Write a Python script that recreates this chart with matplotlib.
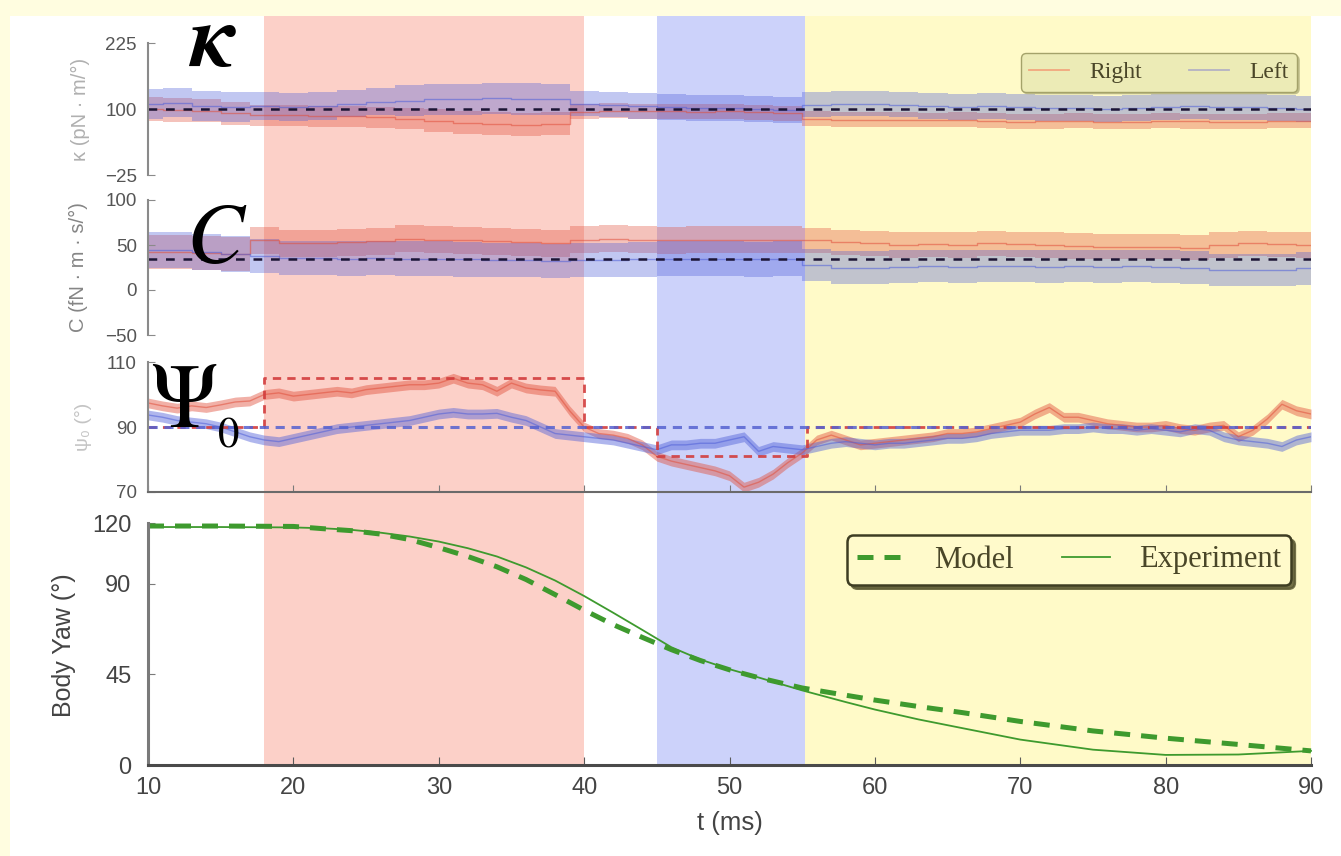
import numpy as np
import matplotlib.pyplot as plt
from matplotlib.patches import Rectangle
from matplotlib.lines import Line2D

plt.rcParams['mathtext.fontset'] = 'custom'
plt.rcParams['mathtext.it'] = 'STIXGeneral:italic:bold'
plt.rcParams['mathtext.rm'] = 'STIXGeneral'

# ---------------- data ----------------
t2 = np.arange(10, 91, 2)   # 41 samples (kappa, C)
t1 = np.arange(10, 91, 1)   # 81 samples (psi0)

kappa_right = [100, 98, 97, 92, 88, 88, 86, 86, 84, 82, 78, 74, 72, 70, 72, 95, 97, 96, 96, 95, 96,
               94, 92, 82, 80, 80, 80, 79, 80, 78, 76, 77, 78, 76, 76, 78, 77, 76, 76, 78, 78]
kappa_right_hw = [22, 22, 22, 22, 20, 20, 20, 20, 20, 20, 22, 22, 22, 22, 22, 14, 14, 14, 14, 14, 14,
                  14, 14, 14, 14, 14, 14, 14, 14, 14, 14, 14, 14, 14, 14, 14, 14, 14, 14, 14, 14]
kappa_left = [110, 112, 106, 104, 106, 104, 106, 110, 114, 116, 118, 118, 120, 119, 118, 110, 108, 106, 104, 102, 102,
              100, 98, 108, 110, 110, 108, 106, 104, 106, 104, 102, 102, 100, 102, 104, 106, 104, 104, 102, 100]
kappa_left_hw = [28, 28, 28, 28, 26, 26, 26, 26, 26, 30, 30, 30, 30, 30, 30, 24, 24, 24, 24, 24, 24,
                 24, 24, 24, 24, 24, 24, 24, 24, 24, 24, 24, 24, 24, 24, 24, 24, 24, 24, 24, 24]
kappa_model = 100

C_right = [42, 42, 41, 40, 55, 52, 52, 53, 54, 57, 56, 55, 54, 53, 52, 56, 57, 56, 55, 56, 56,
           56, 56, 55, 53, 52, 50, 51, 50, 52, 51, 50, 49, 48, 48, 48, 47, 50, 52, 51, 50]
C_right_hw = [19, 19, 19, 19, 15, 15, 15, 15, 15, 15, 15, 15, 15, 15, 15, 15, 15, 15, 15, 15, 15,
              15, 15, 14, 14, 14, 14, 14, 14, 14, 14, 14, 14, 14, 14, 14, 14, 14, 14, 14, 14]
C_left = [44, 44, 42, 40, 38, 36, 36, 35, 36, 35, 35, 34, 33, 33, 32, 33, 33, 34, 35, 35, 35,
          34, 35, 28, 25, 25, 26, 27, 26, 27, 27, 26, 27, 26, 27, 26, 25, 22, 22, 22, 24]
C_left_hw = [20, 20, 20, 20, 19, 19, 19, 19, 19, 19, 19, 19, 19, 19, 19, 19, 19, 19, 19, 19, 19,
             19, 19, 18, 18, 18, 18, 18, 18, 18, 18, 18, 18, 18, 18, 18, 18, 18, 18, 18, 18]
C_model = 35

psi_right = [97.4, 96.5, 95.8, 96.5, 96, 96.8, 97.7, 98, 100, 100.5, 99.5, 100, 100.5, 101, 100.5, 101.5,
             102, 102.5, 103, 103, 103.5, 105, 103.5, 103, 101, 103.5, 102, 101.4, 101, 95, 90, 88,
             87.5, 86.5, 84.5, 81, 79.5, 78.5, 77.5, 76.5, 75, 71.5, 73, 75.5, 79, 82, 86, 87.5,
             86, 84.5, 85, 85.5, 86, 86.5, 87, 88, 88, 88.5, 89.5, 90.5, 91.5, 94, 96, 93,
             93, 92, 91, 90.5, 90, 90, 90.5, 89.5, 89, 90, 90.5, 87, 89, 92.5, 97, 95, 94]
psi_left = [93.7, 93, 92, 91.5, 91, 90, 88.5, 87, 86, 85.5, 86.5, 87.5, 88.5, 89.5, 90, 90.5,
            91, 91.5, 92, 93, 94, 94.5, 94, 94, 94.2, 93, 92, 90, 88, 87.5, 87, 86.5,
            86, 85, 84, 83, 84.5, 84.5, 85, 85, 86, 87, 82.5, 84, 83.5, 83, 84, 85,
            85.5, 85, 84.5, 85, 85, 85.5, 86, 86.5, 86.5, 87, 88, 88.5, 89, 89, 89, 89.5,
            89.5, 90, 89.5, 89.5, 89, 89.5, 89, 88.5, 89.5, 89, 87, 86, 85.5, 85, 84, 86, 87]
psi_hw = 1.5
psi_model_right_t = [10, 18, 18, 40, 40, 45, 45, 55.3, 55.3, 90]
psi_model_right_v = [90, 90, 105, 105, 90, 90, 81, 81, 90, 90]
psi_model_left_t = [10, 90]
psi_model_left_v = [90, 90]

yaw_t = [10, 15, 20, 22, 24, 26, 28, 30, 32, 34, 36, 38, 40, 42, 44, 46, 48, 50, 52, 55, 58, 60,
         63, 66, 70, 75, 80, 85, 90]
yaw_model = [118.5, 118.5, 118.3, 117.2, 116.2, 114.5, 111.8, 107.8, 103.4, 98.3, 92, 84.5, 76.8, 69.6,
             63.3, 57.2, 51.8, 47.2, 43.3, 38.2, 34.6, 32.2, 29, 26, 21.6, 16.9, 13.3, 10.2, 7]
yaw_exp = [118, 118, 117.8, 117.4, 116.6, 115.2, 113.3, 110.8, 107.5, 103.4, 98, 91.5, 83.8, 75.5,
           67, 58.4, 52.3, 47.5, 43.4, 37, 31.2, 27.5, 22.6, 18.3, 12.6, 7.6, 5.0, 5.2, 7]

phases = [(18, 40, '#FCD0C8'), (45, 55.2, '#CCD2FA'), (55.2, 90, '#FFFAC8')]

# ---------------- figure ----------------
W, H = 1341, 856
fig = plt.figure(figsize=(W / 100, H / 100), dpi=100)
fig.patch.set_facecolor('#FFFDE0')
fig.add_artist(Rectangle((10 / W, 0), 1 - 10 / W, 1 - 16 / H, transform=fig.transFigure,
                         facecolor='white', edgecolor='none', zorder=-10))

XL, XR = 148, 1311
left = XL / W
width = (XR - XL) / W

def axbox(ytop, ybot):
    return [left, 1 - ybot / H, width, (ybot - ytop) / H]

bg = fig.add_axes(axbox(16, 767))
bg.set_zorder(-5)
bg.set_xlim(10, 90)
bg.set_ylim(0, 1)
bg.axis('off')
for a, b, c in phases:
    bg.axvspan(a, b, color=c, lw=0)

RED = '#E0503C'
BLUE = '#4F5FD8'
TICKC = '#555555'
SANS = 'Liberation Sans'
SERIF = 'STIXGeneral'
LSERIF = 'Liberation Serif'

def style(ax, ylim, yticks, bottom=False, labelsize=13.5, spinec='#8a8a8a', lw=1.5):
    ax.set_facecolor('none')
    ax.set_xlim(10, 90)
    ax.set_ylim(*ylim)
    for s in ['top', 'right']:
        ax.spines[s].set_visible(False)
    ax.spines['left'].set_bounds(*ylim)
    ax.spines['left'].set_color(spinec)
    ax.spines['left'].set_linewidth(lw)
    if bottom:
        ax.spines['bottom'].set_color('#6a6a6a')
        ax.spines['bottom'].set_linewidth(lw)
    else:
        ax.spines['bottom'].set_visible(False)
    ax.set_yticks(yticks)
    ax.tick_params(axis='y', direction='in', length=5, color=spinec, labelsize=labelsize,
                   labelcolor=TICKC, pad=8)
    for lab in ax.get_yticklabels():
        lab.set_family(SANS)

def band(ax, t, c, hw, color, alpha=0.35, step=None):
    c = np.asarray(c, float)
    hw = np.asarray(hw, float)
    ax.fill_between(t, c - hw, c + hw, color=color, alpha=alpha, lw=0, step=step)
    ax.plot(t, c, color=color, alpha=0.55, lw=1.0, drawstyle='steps-mid' if step else 'default')

def ylab(text, x, y, size, color):
    fig.text(x / W, 1 - y / H, text, rotation=90, ha='center', va='center',
             fontsize=size, color=color, family=[SANS, 'DejaVu Sans'])

# Panel 1: kappa
ax1 = fig.add_axes(axbox(43, 175))
style(ax1, (-25, 225), [-25, 100, 225])
ax1.set_xticks([])
band(ax1, t2, kappa_right, kappa_right_hw, RED, step='mid')
band(ax1, t2, kappa_left, kappa_left_hw, BLUE, step='mid')
ax1.plot([10, 90], [kappa_model, kappa_model], color='#1c1535', lw=1.8, dashes=(3.5, 3.5))
ylab('κ (pN · m/°)', 80, 109, 14.5, '#b0b0b0')

leg1 = ax1.legend(handles=[Line2D([], [], color='#F2A77E', lw=1.3),
                           Line2D([], [], color='#B4B2C4', lw=1.3)],
                  labels=['Right', 'Left'], ncol=2, loc='center',
                  bbox_to_anchor=(1159 / W, 1 - 72.5 / H), bbox_transform=fig.transFigure,
                  prop={'family': LSERIF, 'size': 17}, handlelength=1.7, handletextpad=0.85,
                  columnspacing=2.0, fancybox=True, framealpha=1, facecolor='#ECEBB6',
                  edgecolor='#A4A26A', borderpad=0.35,
                  shadow={'ox': 1.5, 'oy': -1.5, 'color': '#bdbb88', 'alpha': 0.9})
for txt in leg1.get_texts():
    txt.set_color('#4a4628')

# Panel 2: C
ax2 = fig.add_axes(axbox(200, 335))
style(ax2, (-50, 100), [-50, 0, 50, 100])
ax2.set_xticks([])
band(ax2, t2, C_right, C_right_hw, RED, step='mid')
band(ax2, t2, C_left, C_left_hw, BLUE, step='mid')
ax2.plot([10, 90], [C_model, C_model], color='#1c1535', lw=1.8, dashes=(3.5, 3.5))
ylab('C (fN · m · s/°)', 78, 267, 14.5, '#858585')

# Panel 3: psi0
ax3 = fig.add_axes(axbox(362, 492))
style(ax3, (70, 110), [70, 90, 110], bottom=True)
ax3.set_xticks(np.arange(10, 91, 10))
ax3.tick_params(axis='x', direction='in', length=5, color='#7a7a7a', labelbottom=False)
band(ax3, t1, psi_right, psi_hw, RED, alpha=0.45)
band(ax3, t1, psi_left, psi_hw, BLUE, alpha=0.45)
ax3.plot(psi_model_right_t, psi_model_right_v, color='#D23C3C', lw=2.0, dashes=(3, 2.2), alpha=0.9)
ax3.plot(psi_model_left_t, psi_model_left_v, color='#5562D0', lw=2.2, dashes=(3, 2.2), alpha=0.85)
ylab('ψ₀ (°)', 84, 427, 14, '#c4c4c4')

# Panel 4: body yaw
ax4 = fig.add_axes(axbox(523, 765))
style(ax4, (0, 120), [0, 45, 90, 120], bottom=True, labelsize=17, spinec='#7a7a7a', lw=2.2)
ax4.spines['bottom'].set_color('#4a4a4a')
ax4.set_xticks(np.arange(10, 91, 10))
ax4.tick_params(axis='x', direction='in', length=6, color='#5a5a5a', labelsize=17,
                labelcolor='#444444', pad=9)
ax4.tick_params(axis='y', pad=12, labelcolor='#444444')
for lab in ax4.get_xticklabels():
    lab.set_family(SANS)
ax4.plot(yaw_t, yaw_model, color='#3E9A2E', lw=3.6, dashes=(3.2, 2.2), label='Model', clip_on=False)
ax4.plot(yaw_t, yaw_exp, color='#3E9A2E', lw=1.3, label='Experiment', clip_on=False)
ylab('Body Yaw (°)', 64, 645, 18, '#444444')
ax4.set_xlabel('t (ms)', fontsize=18.5, color='#444444', family=SANS, labelpad=8)

leg2 = ax4.legend(ncol=2, loc='center', bbox_to_anchor=(1069 / W, 1 - 560 / H),
                  bbox_transform=fig.transFigure, prop={'family': LSERIF, 'size': 22},
                  handlelength=1.55, handletextpad=0.95, columnspacing=1.6, fancybox=True,
                  framealpha=1, facecolor='#FFFACB', edgecolor='#3e3d22', borderpad=0.33,
                  shadow={'ox': 3, 'oy': -3, 'color': '#5a5832', 'alpha': 0.85})
leg2.get_frame().set_linewidth(1.8)
for txt in leg2.get_texts():
    txt.set_color('#4a4628')

# Big symbols
fig.text(188 / W, 1 - 66 / H, r'$\kappa$', fontsize=64,
         ha='left', va='baseline', color='black')
fig.text(186 / W, 1 - 263 / H, 'C', fontsize=62, family=SERIF, style='italic',
         ha='left', va='baseline', color='black')
fig.text(150 / W, 1 - 427 / H, 'Ψ', fontsize=65, family=SERIF,
         ha='left', va='baseline', color='black')
fig.text(218 / W, 1 - 448 / H, '0', fontsize=31, family=SERIF,
         ha='left', va='baseline', color='black')

fig.savefig('out.png', dpi=100, facecolor=fig.get_facecolor())
